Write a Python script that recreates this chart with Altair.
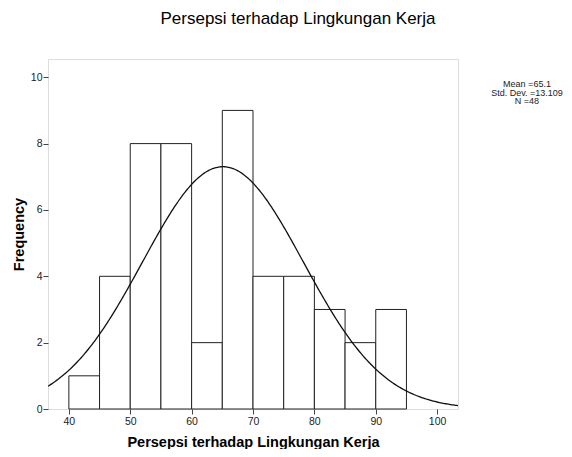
import altair as alt
import pandas as pd

# Histogram data
bin_starts = [40, 45, 50, 55, 60, 65, 70, 75, 80, 85, 90]
counts = [1, 4, 8, 8, 2, 9, 4, 4, 3, 2, 3]
bin_width = 5

# Summary statistics shown in the chart
mean_val = 65.1
sd_val = 13.109
n_val = 48
stats_lines = ["Mean =65.1", "Std. Dev. =13.109", "N =48"]

x_ticks = [40, 50, 60, 70, 80, 90, 100]
y_ticks = [0, 2, 4, 6, 8, 10]
x_domain = [36.6, 103.4]
y_domain = [0, 10.55]

title_text = "Persepsi terhadap Lingkungan Kerja"
x_title = "Persepsi terhadap Lingkungan Kerja"
y_title = "Frequency"

FONT = "Liberation Sans"

bars_df = pd.DataFrame({
    "start": bin_starts,
    "end": [s + bin_width for s in bin_starts],
    "count": counts,
})

x_scale = alt.Scale(domain=x_domain, nice=False, zero=False)
y_scale = alt.Scale(domain=y_domain, nice=False)

x_axis = alt.Axis(values=x_ticks, title=x_title, grid=False, domain=False,
                  tickSize=5, tickColor="#444", labelPadding=2,
                  labelFontSize=10.5, labelColor="#222", titleFontSize=14.5,
                  titleFontWeight="bold", titleColor="#000", titlePadding=9,
                  labelFont=FONT, titleFont=FONT)
y_axis = alt.Axis(values=y_ticks, title=y_title, grid=False, domain=False,
                  tickSize=5, tickColor="#444", labelPadding=1,
                  labelFontSize=10.5, labelColor="#222", titleFontSize=14.5,
                  titleFontWeight="bold", titleColor="#000", titlePadding=4,
                  labelFont=FONT, titleFont=FONT)

bars = alt.Chart(bars_df).mark_rect(fill="white", stroke="#222", strokeWidth=1).encode(
    x=alt.X("start:Q", scale=x_scale, axis=x_axis),
    x2="end:Q",
    y=alt.Y("count:Q", scale=y_scale, axis=y_axis),
    y2=alt.datum(0),
)

scale_factor = n_val * bin_width
curve = alt.Chart(alt.sequence(x_domain[0], x_domain[1] + 0.1, 0.2, as_="v")).transform_calculate(
    f=f"{scale_factor}/({sd_val}*sqrt(2*PI))*exp(-0.5*pow((datum.v-{mean_val})/{sd_val},2))"
).mark_line(color="#111", strokeWidth=1.3, clip=True).encode(
    x=alt.X("v:Q", scale=x_scale),
    y=alt.Y("f:Q", scale=y_scale),
)

stats = alt.Chart(pd.DataFrame({"k": [0]})).mark_text(
    font=FONT, fontSize=9, align="center", baseline="top", lineHeight=8.5, color="#222"
).encode(
    x=alt.value(479),
    y=alt.value(21),
    text=alt.value(stats_lines),
)

chart = alt.layer(bars, curve, stats).properties(
    width=410,
    height=350,
    title=alt.TitleParams(title_text, fontSize=17, fontWeight="normal", font=FONT,
                          color="#000", anchor="middle", frame="group", dx=45,
                          baseline="alphabetic", offset=18),
    autosize=alt.AutoSizeParams(type="none"),
    padding={"left": 40, "top": 51, "right": 106, "bottom": 40},
).configure_view(
    fill="#f0f0f0", stroke="#555", strokeWidth=1
).configure(background="white")

chart.save("out.html", embed_options={"renderer": "svg", "actions": False})
